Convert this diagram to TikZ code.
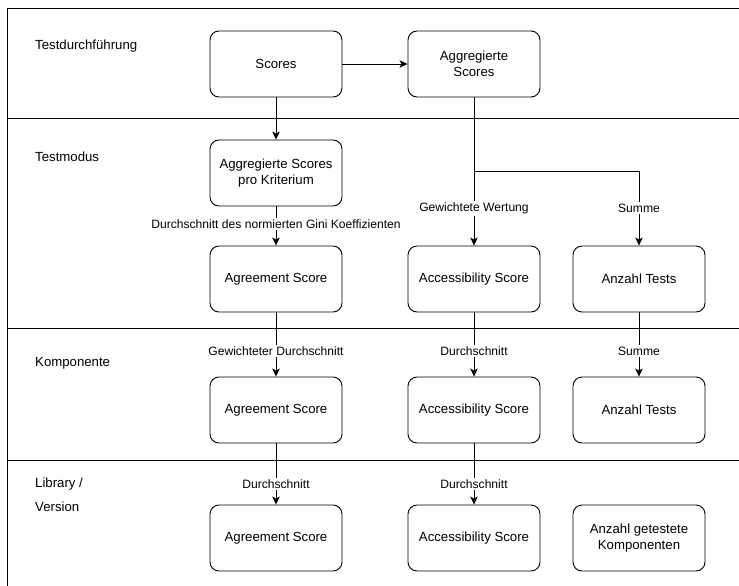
\documentclass[tikz,border=0pt]{standalone}
\usepackage{fontspec}
\setmainfont{Liberation Sans}
\usetikzlibrary{arrows.meta}
\begin{document}
\begin{tikzpicture}[x=1pt,y=-1pt,
  box/.style={draw, line width=0.9pt, rounded corners=9pt, minimum width=132pt,
    minimum height=66pt, align=center, font=\fontsize{13.2}{16}\selectfont},
  lane/.style={anchor=west, align=left, font=\fontsize{13.2}{24}\selectfont, inner sep=0pt},
  arr/.style={line width=0.9pt, -{Stealth[length=8pt,width=7.5pt,inset=2pt]}},
  lbl/.style={fill=white, inner sep=1.5pt, font=\fontsize{12.1}{14}\selectfont},
  frame/.style={line width=0.9pt}]
\useasboundingbox (0,0) rectangle (739,586);

% swimlane frame and dividers
\draw[frame] (739,8) -- (7,8) -- (7,586);
\draw[frame] (7,118) -- (739,118);
\draw[frame] (7,328) -- (739,328);
\draw[frame] (7,460) -- (739,460);

% lane titles
\node[lane] (lTest) at (35,46) {Testdurchführung};
\node[lane] (lModus) at (35,157) {Testmodus};
\node[lane] (lKomp) at (35,363) {Komponente};
\node[lane] (lLib) at (35,495) {Library /\\Version};

% test execution
\node[box] (scores) at (276,64) {Scores};
\node[box] (aggr) at (474,64) {Aggregierte\\Scores};

% test mode
\node[box] (krit) at (276,173) {Aggregierte Scores\\pro Kriterium};
\node[box] (agr1) at (276,279) {Agreement Score};
\node[box] (acc1) at (474,279) {Accessibility Score};
\node[box] (cnt1) at (639,279) {Anzahl Tests};

% component
\node[box] (agr2) at (276,410) {Agreement Score};
\node[box] (acc2) at (474,410) {Accessibility Score};
\node[box] (cnt2) at (639,410) {Anzahl Tests};

% library / version
\node[box] (agr3) at (276,538) {Agreement Score};
\node[box] (acc3) at (474,538) {Accessibility Score};
\node[box] (cnt3) at (639,538) {Anzahl getestete\\Komponenten};

% connectors
\draw[arr] (scores) -- (aggr);
\draw[arr] (scores) -- (krit);
\draw[arr] (krit) -- node[lbl, pos=0.45] {Durchschnitt des normierten Gini Koeffizienten} (agr1);
\draw[arr] (aggr) -- node[lbl, pos=0.75] {Gewichtete Wertung} (acc1);
\coordinate (split) at (474,171);
\draw[arr] (split) -| node[lbl, pos=0.75] {Summe} (cnt1);

\draw[arr] (agr1) -- node[lbl, pos=0.6] {Gewichteter Durchschnitt} (agr2);
\draw[arr] (acc1) -- node[lbl, pos=0.6] {Durchschnitt} (acc2);
\draw[arr] (cnt1) -- node[lbl, pos=0.6] {Summe} (cnt2);

\draw[arr] (agr2) -- node[lbl, pos=0.66] {Durchschnitt} (agr3);
\draw[arr] (acc2) -- node[lbl, pos=0.66] {Durchschnitt} (acc3);
\end{tikzpicture}
\end{document}
